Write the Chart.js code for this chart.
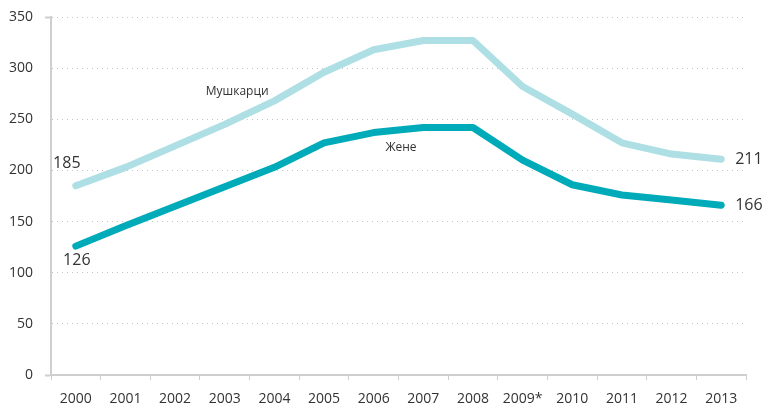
<!DOCTYPE html>
<html>
<head>
<meta charset="utf-8">
<script src="https://cdn.jsdelivr.net/npm/chart.js@4/dist/chart.umd.min.js"></script>
<style>
  html, body { margin: 0; padding: 0; background: #fff; }
  #wrap { width: 766px; height: 406px; }
</style>
</head>
<body>
<div id="wrap"><canvas id="chart"></canvas></div>
<script>
const years = ['2000', '2001', '2002', '2003', '2004', '2005', '2006', '2007', '2008', '2009*', '2010', '2011', '2012', '2013'];
const men = [185, 203, 224, 245, 268, 296, 318, 327, 327, 282, 255, 227, 216, 211];
const women = [126, 146, 165, 184, 203, 227, 237, 242, 242, 210, 186, 176, 171, 166];
const yTicks = [0, 50, 100, 150, 200, 250, 300, 350];

const menColor = '#aedfe4';
const womenColor = '#00abb9';
const axisColor = '#cfcfcf';
const textColor = '#333';
const FONT = '"Open Sans", "DejaVu Sans", sans-serif';

// first/last values and series names drawn on top of the lines
const labelPlugin = {
  id: 'lineLabels',
  afterDatasetsDraw(chart) {
    const ctx = chart.ctx;
    const x = chart.scales.x;
    const y = chart.scales.y;
    const last = years.length - 1;
    ctx.save();
    ctx.fillStyle = textColor;
    ctx.font = '16px ' + FONT;
    ctx.textBaseline = 'middle';

    ctx.textAlign = 'center';
    ctx.fillText(String(men[0]), x.getPixelForValue(0) - 9, y.getPixelForValue(men[0]) - 22);
    ctx.fillText(String(women[0]), x.getPixelForValue(0) + 1, y.getPixelForValue(women[0]) + 14);

    ctx.textAlign = 'left';
    ctx.fillText(String(men[last]), x.getPixelForValue(last) + 14, y.getPixelForValue(men[last]));
    ctx.fillText(String(women[last]), x.getPixelForValue(last) + 14, y.getPixelForValue(women[last]));

    ctx.font = '12px ' + FONT;
    ctx.textAlign = 'center';
    ctx.fillText('Мушкарци', x.getPixelForValue(3.25), y.getPixelForValue(277));
    ctx.fillText('Жене', x.getPixelForValue(6.55), y.getPixelForValue(222));
    ctx.restore();
  }
};

new Chart(document.getElementById('chart'), {
  type: 'line',
  data: {
    labels: years,
    datasets: [
      { label: 'Мушкарци', data: men, borderColor: menColor, backgroundColor: menColor },
      { label: 'Жене', data: women, borderColor: womenColor, backgroundColor: womenColor }
    ]
  },
  options: {
    responsive: true,
    maintainAspectRatio: false,
    animation: false,
    layout: { padding: { left: 0, right: 20, top: 17, bottom: 0 } },
    elements: {
      line: { borderWidth: 7, tension: 0, borderCapStyle: 'round', borderJoinStyle: 'round' },
      point: { radius: 0 }
    },
    plugins: {
      legend: { display: false },
      tooltip: { enabled: false }
    },
    scales: {
      x: {
        offset: true,
        afterFit: axis => { axis.height = 31; },
        grid: { drawOnChartArea: false, drawTicks: true, tickLength: 5, color: axisColor, offset: true },
        border: { display: true, color: axisColor, width: 2 },
        ticks: { color: textColor, font: { family: FONT, size: 14 }, padding: 11, maxRotation: 0, autoSkip: false }
      },
      y: {
        min: 0,
        max: 350,
        afterBuildTicks: axis => { axis.ticks = yTicks.map(v => ({ value: v })); },
        afterFit: axis => { axis.width = 51; axis.paddingTop = 0; axis.paddingBottom = 0; },
        grid: {
          color: '#c4c4c4',
          lineWidth: 1,
          drawTicks: true,
          tickLength: 6,
          // only the ends of the axis get a short outward tick
          tickColor: c => (c.tick && (c.tick.value === 0 || c.tick.value === 350)) ? axisColor : 'rgba(0,0,0,0)',
          tickWidth: 2
        },
        border: { display: true, color: axisColor, width: 2, dash: [1, 4] },
        ticks: { color: textColor, font: { family: FONT, size: 14 }, padding: 12 }
      }
    }
  },
  plugins: [labelPlugin]
});
</script>
</body>
</html>
